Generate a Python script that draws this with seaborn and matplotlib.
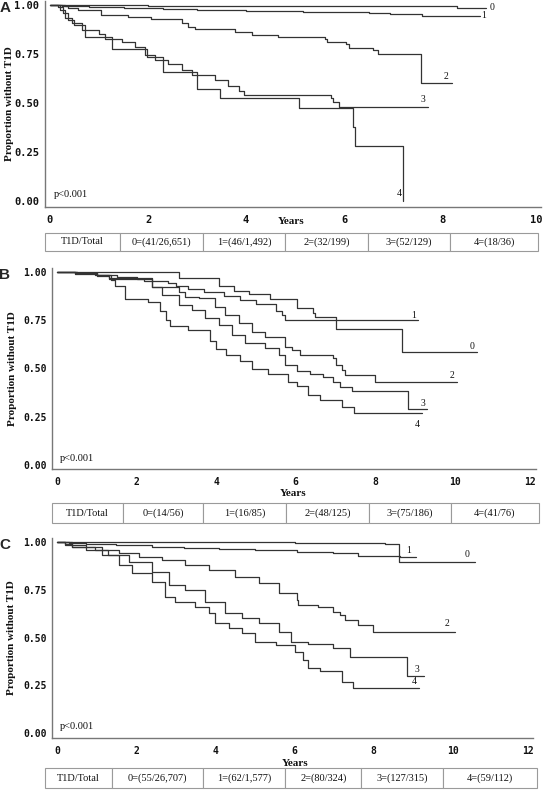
import numpy as np
import pandas as pd
import matplotlib
matplotlib.use("Agg")
import matplotlib.pyplot as plt
import matplotlib.transforms as mtransforms
import seaborn as sns

# ---- panel A: Kaplan-Meier steps (years, proportion without T1D)
a_t = {
    "0": [0, 2.0, 4.0, 6.5, 8.3, 8.9],
    "1": [0, 0.3, 0.8, 1.5, 2.3, 3.0, 4.0, 5.17, 6.5, 6.94, 7.6, 8.78],
    "2": [0, 0.24, 0.37, 0.58, 1.05, 1.6, 2.07, 2.69, 2.82, 2.96, 3.78, 4.12, 4.66,
          5.61, 5.66, 6.05, 6.1, 6.6, 6.7, 7.58, 8.2],
    "3": [0, 0.2, 0.3, 0.44, 0.65, 0.99, 1.12, 1.46, 1.73, 1.94, 2.14, 2.41, 2.69,
          2.9, 3.37, 3.64, 3.85, 3.95, 5.73, 5.78, 5.9, 7.71],
    "4": [0, 0.17, 0.27, 0.37, 0.48, 0.71, 1.26, 1.97, 2.31, 2.99, 3.47, 5.09,
          6.19, 6.23, 7.21],
}
a_s = {
    "0": [1.0, 0.997, 0.995, 0.993, 0.985, 0.985],
    "1": [1.0, 0.995, 0.99, 0.985, 0.98, 0.975, 0.97, 0.963, 0.957, 0.953, 0.943, 0.943],
    "2": [1.0, 0.995, 0.983, 0.974, 0.949, 0.94, 0.927, 0.91, 0.889, 0.876, 0.86, 0.848,
          0.835, 0.825, 0.81, 0.80, 0.782, 0.77, 0.75, 0.60, 0.60],
    "3": [1.0, 0.975, 0.932, 0.91, 0.872, 0.85, 0.825, 0.813, 0.787, 0.745, 0.719, 0.70,
          0.668, 0.643, 0.617, 0.587, 0.563, 0.541, 0.524, 0.507, 0.478, 0.478],
    "4": [1.0, 0.99, 0.957, 0.923, 0.898, 0.838, 0.774, 0.733, 0.66, 0.57, 0.524, 0.474,
          0.379, 0.282, 0.0],
}

# ---- panel B
b_t = {
    "0": [0, 3.06, 4.07, 4.44, 4.82, 5.37, 6.05, 6.45, 6.49, 7.01, 8.67, 10.56],
    "1": [0, 0.46, 1.0, 1.3, 2.2, 2.8, 3.0, 3.3, 3.7, 4.2, 4.6, 5.0, 5.5, 5.66, 5.74, 9.07],
    "2": [0, 0.5, 1.0, 1.5, 2.0, 2.39, 3.06, 3.23, 3.56, 3.98, 4.23, 4.57, 4.9, 5.24,
          5.74, 5.9, 6.11, 6.95, 7.03, 7.16, 7.24, 8.0, 10.06],
    "3": [0, 0.46, 0.96, 1.3, 2.39, 2.64, 3.06, 3.4, 3.73, 4.07, 4.4, 4.74, 5.24, 5.58,
          5.74, 6.04, 6.37, 6.7, 6.95, 7.12, 7.41, 8.84, 9.3],
    "4": [0, 0.5, 1.0, 1.35, 1.45, 1.7, 2.3, 2.6, 2.75, 2.85, 3.3, 3.85, 4.0, 4.25, 4.6,
          4.9, 5.3, 5.8, 6.03, 6.32, 6.62, 7.16, 7.46, 9.17],
}
b_s = {
    "0": [1.0, 0.967, 0.929, 0.901, 0.884, 0.86, 0.815, 0.786, 0.765, 0.705, 0.587, 0.587],
    "1": [1.0, 0.99, 0.98, 0.965, 0.955, 0.945, 0.925, 0.912, 0.894, 0.875, 0.855, 0.833,
          0.80, 0.777, 0.751, 0.751],
    "2": [1.0, 0.993, 0.984, 0.975, 0.962, 0.924, 0.898, 0.872, 0.863, 0.82, 0.777, 0.734,
          0.691, 0.665, 0.613, 0.596, 0.57, 0.553, 0.518, 0.492, 0.466, 0.432, 0.432],
    "3": [1.0, 0.993, 0.984, 0.967, 0.924, 0.881, 0.829, 0.803, 0.76, 0.725, 0.674, 0.63,
          0.604, 0.57, 0.518, 0.487, 0.47, 0.458, 0.432, 0.406, 0.383, 0.29, 0.29],
    "4": [1.0, 0.993, 0.985, 0.96, 0.93, 0.86, 0.845, 0.80, 0.75, 0.72, 0.70, 0.64, 0.60,
          0.57, 0.54, 0.50, 0.47, 0.432, 0.411, 0.363, 0.337, 0.302, 0.268, 0.268],
}

# ---- panel C
c_t = {
    "0": [0, 2.0, 4.0, 6.0, 8.28, 8.64, 10.56],
    "1": [0, 0.3, 0.72, 1.5, 2.4, 3.2, 4.08, 5.0, 6.06, 6.47, 6.98, 7.61, 8.66, 9.07],
    "2": [0, 0.2, 0.38, 0.97, 1.56, 2.06, 2.65, 3.24, 3.83, 4.5, 5.09, 5.6, 6.06, 6.09,
          6.6, 6.98, 7.15, 7.28, 7.61, 7.99, 10.05],
    "3": [0, 0.21, 0.72, 1.3, 1.81, 2.4, 2.82, 3.24, 3.75, 4.25, 4.67, 5.09, 5.6, 5.9,
          6.35, 6.98, 7.4, 8.83, 9.28],
    "4": [0, 0.38, 1.14, 1.56, 1.89, 2.4, 2.74, 2.99, 3.49, 3.83, 4.0, 4.34, 4.67, 5.01,
          5.52, 6.01, 6.22, 6.35, 6.64, 7.19, 7.48, 9.15],
}
c_s = {
    "0": [1.0, 0.999, 0.998, 0.997, 0.988, 0.897, 0.897],
    "1": [1.0, 0.996, 0.99, 0.984, 0.976, 0.97, 0.963, 0.956, 0.95, 0.946, 0.94, 0.928,
          0.923, 0.923],
    "2": [1.0, 0.99, 0.976, 0.958, 0.94, 0.923, 0.906, 0.88, 0.853, 0.818, 0.784, 0.731,
          0.696, 0.67, 0.662, 0.635, 0.617, 0.59, 0.568, 0.53, 0.53],
    "3": [1.0, 0.984, 0.958, 0.932, 0.897, 0.845, 0.775, 0.749, 0.688, 0.627, 0.6, 0.574,
          0.53, 0.478, 0.464, 0.443, 0.40, 0.30, 0.30],
    "4": [1.0, 0.976, 0.932, 0.88, 0.836, 0.792, 0.714, 0.688, 0.662, 0.627, 0.574, 0.548,
          0.522, 0.478, 0.46, 0.426, 0.382, 0.339, 0.325, 0.268, 0.237, 0.237],
}

# ---- tables under each panel
a_table = ["T1D/Total", "0=(41/26,651)", "1=(46/1,492)", "2=(32/199)", "3=(52/129)", "4=(18/36)"]
b_table = ["T1D/Total", "0=(14/56)", "1=(16/85)", "2=(48/125)", "3=(75/186)", "4=(41/76)"]
c_table = ["T1D/Total", "0=(55/26,707)", "1=(62/1,577)", "2=(80/324)", "3=(127/315)", "4=(59/112)"]

sns.set_theme(style="white")
plt.rcParams["font.family"] = ["Liberation Serif", "DejaVu Serif"]

W, H = 544, 791
fig = plt.figure(figsize=(W / 100, H / 100), dpi=100)


def fbox(l, t, r, b):
    # pixel box -> figure fraction
    return [l / W, 1 - b / H, (r - l) / W, (b - t) / H]


panels = [
    dict(letter="A", times=a_t, surv=a_s, table=a_table,
         ax=(45, 1, 541, 207), xlim=(-0.102, 10.02), ylim=(-0.0306, 1.0204), xmax=10,
         tab=(45, 232.7, 538, 250.7), colw=[75, 83, 82, 83, 82, 88],
         letter_y=7.5, ylab_x=10, xlab=(291, 221), tick_fs=7.5,
         offs={"0": (4.1, 0), "1": (2.7, 0.7), "2": (-4.3, 4.8), "3": (-3.4, 5.8), "4": (-2.9, 5.3)}),
    dict(letter="B", times=b_t, surv=b_s, table=b_table,
         ax=(52, 268, 536, 469), xlim=(-0.126, 12.05), ylim=(-0.0207, 1.0207), xmax=12,
         tab=(51.7, 503.3, 538.7, 523.3), colw=[71.6, 80, 82.7, 82.7, 82.3, 87.7],
         letter_y=275, ylab_x=13, xlab=(293, 494), tick_fs=7,
         offs={"0": (-3.1, 3.6), "1": (-2.9, 3.6), "2": (-3.4, 4.1), "3": (-2.9, 3.8), "4": (-2.9, -8.4)}),
    dict(letter="C", times=c_t, surv=c_s, table=c_table,
         ax=(52, 538, 533, 738), xlim=(-0.126, 12.02), ylim=(-0.026, 1.021), xmax=12,
         tab=(45, 768.3, 537, 788), colw=[66.7, 91.6, 82, 76, 81.7, 94],
         letter_y=545, ylab_x=12, xlab=(295, 763), tick_fs=7,
         offs={"0": (-5.5, 5.3), "1": (-5.3, 4.3), "2": (-5.5, 6.0), "3": (-5.5, 4.3), "4": (-3.9, 4.5)}),
]

line_col = "#333333"
spine_col = "#777777"

for p in panels:
    l, t, r, b = p["ax"]
    ax = fig.add_axes(fbox(l, t, r, b))

    rows = []
    for g in p["times"]:
        for x, y in zip(p["times"][g], p["surv"][g]):
            rows.append((g, x, y))
    df = pd.DataFrame(rows, columns=["group", "years", "surv"])

    sns.lineplot(data=df, x="years", y="surv", hue="group", units="group",
                 estimator=None, sort=False, drawstyle="steps-post",
                 palette=[line_col] * 5, linewidth=0.9, legend=False, ax=ax)

    ax.set_xlim(*p["xlim"])
    ax.set_ylim(*p["ylim"])
    ax.set_xticks(np.arange(0, p["xmax"] + 1, 2))
    ax.set_yticks([0, 0.25, 0.5, 0.75, 1.0])
    ax.set_yticklabels(["0.00", "0.25", "0.50", "0.75", "1.00"])
    for s in ["top", "right"]:
        ax.spines[s].set_visible(False)
    for s in ["left", "bottom"]:
        ax.spines[s].set_color(spine_col)
        ax.spines[s].set_linewidth(1.0)
    ax.tick_params(axis="both", direction="out", length=3, width=0.8, color=spine_col,
                   labelsize=p["tick_fs"], pad=3)
    ax.tick_params(axis="y", length=2.5, pad=1.5)
    for lab in ax.get_xticklabels() + ax.get_yticklabels():
        lab.set_fontfamily("DejaVu Sans Mono")
        lab.set_fontweight("bold")
        lab.set_color("#111111")
    # the last x label sits on the right edge of the figure; nudge it inwards
    last = ax.get_xticklabels()[-1]
    last.set_transform(last.get_transform() +
                       mtransforms.ScaledTranslation(-4 / 100, 0, fig.dpi_scale_trans))

    ax.set_xlabel("Years", fontsize=8, fontweight="bold", color="#111111")
    ax.xaxis.set_label_coords((p["xlab"][0] - l) / (r - l), -(p["xlab"][1] - b) / (b - t))
    ax.xaxis.label.set_va("center")
    ax.set_ylabel("Proportion without T1D", fontsize=8, fontweight="bold", color="#111111")
    ax.yaxis.set_label_coords((p["ylab_x"] - l) / (r - l), 0.5)
    ax.yaxis.label.set_va("center")

    ax.text(0.07, 0.035, "p<0.001", fontsize=7.5, ha="left", va="center", color="#111111")

    for g in p["times"]:
        ax.annotate(g, xy=(p["times"][g][-1], p["surv"][g][-1]), xytext=p["offs"][g],
                    textcoords="offset points", ha="center", va="center",
                    fontsize=7, color="#111111")

    fig.text(5 / W, 1 - p["letter_y"] / H, p["letter"], fontsize=11, fontweight="bold",
             family="Liberation Sans", ha="center", va="center")

    # count table
    tl, tt, tr, tb = p["tab"]
    tax = fig.add_axes(fbox(tl, tt, tr, tb))
    tax.axis("off")
    cw = np.array(p["colw"]) / sum(p["colw"])
    tab = tax.table(cellText=[p["table"]], colWidths=list(cw), cellLoc="center",
                    bbox=[0, 0, 1, 1])
    tab.auto_set_font_size(False)
    tab.set_fontsize(7.5)
    for cell in tab.get_celld().values():
        cell.set_edgecolor("#9a9a9a")
        cell.set_linewidth(0.8)
        cell.get_text().set_fontfamily("Liberation Serif")
        cell.get_text().set_color("#111111")

fig.savefig("out.png", dpi=100)
